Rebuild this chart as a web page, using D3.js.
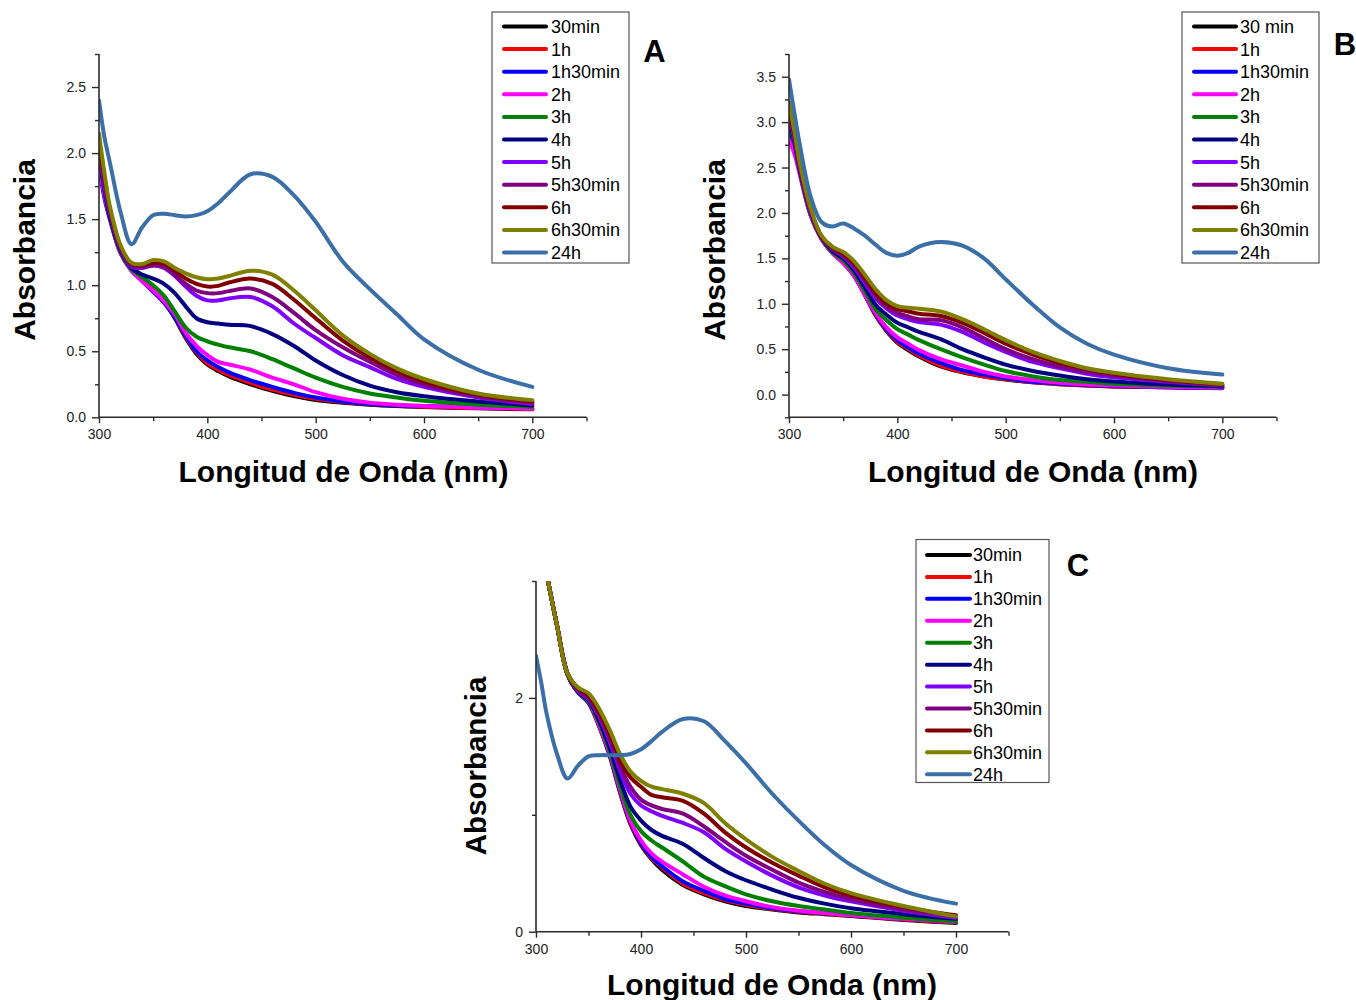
<!DOCTYPE html>
<html>
<head>
<meta charset="utf-8">
<script src="https://cdn.jsdelivr.net/npm/d3@7"></script>
<style>
  body { margin: 0; background: #fff; }
  text { font-family: "Liberation Sans", Arial, Helvetica, sans-serif; }
</style>
</head>
<body>
<svg id="fig" width="1356" height="1000"></svg>
<script>
// UV-Vis absorbance spectra recorded at increasing reaction times (three samples)

const wavelengths = [300, 305, 310, 320, 330, 340, 350, 360, 370, 380, 390, 400, 410, 420, 440, 460, 480, 500, 525, 550, 575, 600, 650, 700];

const seriesColors = ["#000000", "#ff0000", "#0000ff", "#ff00ff", "#008000", "#000080",
                      "#8000ff", "#800080", "#800000", "#808000", "#3b6fa8"];

const legendLabelsA = ["30min", "1h", "1h30min", "2h", "3h", "4h", "5h", "5h30min", "6h", "6h30min", "24h"];
const legendLabelsB = ["30 min", "1h", "1h30min", "2h", "3h", "4h", "5h", "5h30min", "6h", "6h30min", "24h"];
const legendLabelsC = ["30min", "1h", "1h30min", "2h", "3h", "4h", "5h", "5h30min", "6h", "6h30min", "24h"];

// Sample A — one row per time, in legend order
const absorbanceA = [
  [1.95,1.70,1.52,1.25,1.12,1.04,0.96,0.87,0.75,0.60,0.48,0.40,0.35,0.31,0.25,0.20,0.16,0.13,0.11,0.095,0.085,0.078,0.068,0.06],
  [1.97,1.71,1.53,1.25,1.12,1.04,0.96,0.87,0.76,0.61,0.49,0.41,0.36,0.32,0.26,0.21,0.17,0.14,0.115,0.10,0.09,0.08,0.07,0.065],
  [1.90,1.66,1.50,1.24,1.11,1.03,0.95,0.87,0.76,0.62,0.50,0.43,0.38,0.34,0.28,0.23,0.185,0.15,0.12,0.10,0.09,0.085,0.075,0.07],
  [1.93,1.68,1.51,1.24,1.11,1.03,0.96,0.88,0.78,0.64,0.54,0.47,0.42,0.40,0.36,0.30,0.25,0.19,0.14,0.11,0.095,0.085,0.075,0.065],
  [2.00,1.72,1.52,1.25,1.12,1.06,1.00,0.92,0.80,0.68,0.61,0.575,0.55,0.53,0.50,0.44,0.37,0.30,0.23,0.18,0.15,0.125,0.095,0.08],
  [2.00,1.72,1.52,1.26,1.13,1.08,1.05,1.01,0.94,0.84,0.75,0.72,0.71,0.70,0.69,0.63,0.54,0.43,0.32,0.24,0.19,0.16,0.12,0.09],
  [2.02,1.75,1.55,1.27,1.14,1.13,1.15,1.13,1.07,0.99,0.92,0.885,0.885,0.90,0.91,0.84,0.71,0.60,0.47,0.38,0.29,0.23,0.15,0.10],
  [2.05,1.78,1.56,1.28,1.15,1.14,1.15,1.14,1.08,1.01,0.96,0.94,0.94,0.955,0.975,0.91,0.79,0.66,0.53,0.42,0.32,0.25,0.16,0.11],
  [2.10,1.82,1.58,1.29,1.16,1.15,1.17,1.16,1.11,1.05,1.01,0.99,0.995,1.02,1.05,1.01,0.89,0.75,0.58,0.45,0.35,0.27,0.17,0.12],
  [2.15,1.85,1.60,1.30,1.17,1.16,1.19,1.18,1.13,1.09,1.06,1.045,1.05,1.07,1.11,1.08,0.96,0.81,0.62,0.48,0.37,0.29,0.18,0.13],
  [2.40,2.12,1.93,1.55,1.31,1.44,1.53,1.54,1.53,1.52,1.53,1.56,1.62,1.70,1.84,1.82,1.68,1.48,1.18,0.97,0.78,0.59,0.36,0.23]
];

// Sample B
const absorbanceB = [
  [2.93,2.72,2.45,1.98,1.72,1.56,1.45,1.31,1.10,0.87,0.70,0.57,0.49,0.42,0.31,0.245,0.20,0.165,0.135,0.115,0.10,0.09,0.08,0.075],
  [2.95,2.73,2.45,1.98,1.72,1.56,1.45,1.31,1.10,0.88,0.71,0.58,0.505,0.43,0.32,0.25,0.20,0.17,0.135,0.115,0.10,0.09,0.08,0.075],
  [2.95,2.73,2.45,1.98,1.72,1.56,1.46,1.31,1.10,0.89,0.72,0.60,0.52,0.45,0.35,0.27,0.22,0.18,0.14,0.12,0.105,0.095,0.08,0.07],
  [2.80,2.65,2.42,1.97,1.71,1.56,1.45,1.31,1.10,0.90,0.74,0.63,0.56,0.49,0.39,0.32,0.25,0.20,0.16,0.13,0.11,0.10,0.085,0.075],
  [3.00,2.76,2.46,1.99,1.72,1.57,1.48,1.34,1.14,0.94,0.82,0.72,0.66,0.60,0.50,0.41,0.33,0.26,0.20,0.16,0.14,0.12,0.10,0.085],
  [3.05,2.78,2.47,2.00,1.73,1.58,1.50,1.37,1.18,0.99,0.88,0.79,0.74,0.69,0.61,0.50,0.41,0.33,0.26,0.21,0.17,0.145,0.11,0.09],
  [3.10,2.81,2.49,2.01,1.73,1.60,1.52,1.40,1.23,1.06,0.95,0.87,0.83,0.80,0.77,0.69,0.575,0.47,0.36,0.29,0.23,0.19,0.14,0.10],
  [3.15,2.84,2.51,2.02,1.74,1.61,1.53,1.42,1.26,1.09,0.97,0.90,0.86,0.83,0.82,0.74,0.62,0.50,0.39,0.31,0.25,0.21,0.15,0.105],
  [3.18,2.87,2.53,2.04,1.74,1.62,1.55,1.45,1.29,1.12,1.00,0.94,0.915,0.89,0.865,0.79,0.68,0.56,0.44,0.35,0.28,0.23,0.16,0.11],
  [3.22,2.90,2.55,2.05,1.75,1.63,1.57,1.47,1.32,1.16,1.04,0.975,0.955,0.945,0.915,0.83,0.72,0.60,0.47,0.37,0.29,0.24,0.17,0.12],
  [3.47,3.10,2.75,2.18,1.90,1.85,1.885,1.83,1.75,1.65,1.56,1.53,1.56,1.63,1.68,1.64,1.50,1.27,0.99,0.74,0.56,0.44,0.29,0.22]
];

// Sample C
const absorbanceC = [
  [3.70,3.35,3.07,2.62,2.20,2.05,1.96,1.76,1.51,1.19,0.92,0.74,0.62,0.53,0.40,0.32,0.26,0.22,0.19,0.165,0.15,0.135,0.10,0.075],
  [3.70,3.35,3.07,2.62,2.20,2.05,1.96,1.76,1.52,1.20,0.93,0.75,0.63,0.55,0.41,0.33,0.27,0.23,0.195,0.17,0.155,0.14,0.105,0.08],
  [3.70,3.35,3.07,2.62,2.20,2.05,1.96,1.77,1.52,1.21,0.94,0.76,0.64,0.56,0.43,0.35,0.28,0.24,0.20,0.175,0.16,0.145,0.11,0.085],
  [3.70,3.35,3.07,2.62,2.20,2.05,1.97,1.77,1.53,1.22,0.95,0.78,0.67,0.60,0.49,0.385,0.31,0.26,0.21,0.18,0.16,0.14,0.11,0.085],
  [3.70,3.35,3.07,2.62,2.20,2.05,1.97,1.79,1.55,1.25,1.00,0.86,0.78,0.72,0.60,0.47,0.39,0.32,0.26,0.22,0.19,0.16,0.12,0.09],
  [3.70,3.35,3.07,2.62,2.21,2.05,1.98,1.81,1.58,1.30,1.07,0.95,0.87,0.82,0.75,0.63,0.52,0.44,0.36,0.29,0.24,0.20,0.15,0.11],
  [3.70,3.35,3.07,2.62,2.21,2.06,1.99,1.84,1.63,1.38,1.18,1.08,1.03,0.99,0.93,0.85,0.71,0.60,0.48,0.38,0.31,0.26,0.18,0.12],
  [3.70,3.35,3.07,2.62,2.21,2.07,2.00,1.86,1.66,1.42,1.24,1.13,1.08,1.05,1.01,0.90,0.77,0.65,0.53,0.42,0.34,0.28,0.19,0.13],
  [3.70,3.35,3.07,2.62,2.21,2.08,2.02,1.88,1.70,1.47,1.32,1.24,1.17,1.15,1.12,1.01,0.85,0.72,0.59,0.48,0.38,0.31,0.21,0.14],
  [3.70,3.35,3.07,2.62,2.21,2.09,2.04,1.91,1.73,1.52,1.37,1.29,1.24,1.22,1.18,1.10,0.93,0.79,0.64,0.52,0.41,0.33,0.22,0.13],
  [2.36,2.13,1.87,1.52,1.31,1.42,1.50,1.51,1.51,1.51,1.52,1.56,1.63,1.71,1.82,1.80,1.63,1.44,1.18,0.95,0.74,0.57,0.35,0.24]
];

// Axis tick values
const xMajorTicks = [300, 400, 500, 600, 700];
const xMinorTicks = [350, 450, 550, 650, 750];
const yMajorTicksA = [0, 0.5, 1.0, 1.5, 2.0, 2.5];
const yMinorTicksA = [0.25, 0.75, 1.25, 1.75, 2.25, 2.75];
const yMajorTicksB = [0, 0.5, 1.0, 1.5, 2.0, 2.5, 3.0, 3.5];
const yMinorTicksB = [-0.25, 0.25, 0.75, 1.25, 1.75, 2.25, 2.75, 3.25, 3.75];
const yMajorTicksC = [0, 2];
const yMinorTicksC = [1, 3];

const svg = d3.select("#fig");
const axisColor = "#2b2b2b";

function drawPanel(cfg) {
  const x = d3.scaleLinear().domain([300, 750]).range([cfg.left, cfg.right]);
  const y = d3.scaleLinear().domain(cfg.yDomain).range([cfg.bottom, cfg.top]);
  const g = svg.append("g");

  const clipId = "clip-" + cfg.id;
  svg.append("clipPath").attr("id", clipId)
    .append("rect")
    .attr("x", cfg.left).attr("y", cfg.top)
    .attr("width", cfg.right - cfg.left).attr("height", cfg.bottom - cfg.top);

  // spectra
  const line = d3.line()
    .x((d, i) => x(wavelengths[i]))
    .y(d => y(d))
    .curve(d3.curveCatmullRom.alpha(0.5));
  const curves = g.append("g").attr("clip-path", `url(#${clipId})`);
  cfg.data.forEach((row, k) => {
    curves.append("path")
      .attr("d", line(row))
      .attr("fill", "none")
      .attr("stroke", seriesColors[k])
      .attr("stroke-width", 4)
      .attr("stroke-linejoin", "round")
      .attr("stroke-linecap", "round");
  });

  // axes
  const tickFont = g => g.selectAll("text")
    .attr("font-size", 14)
    .attr("fill", "#222")
    .attr("font-family", "'Liberation Sans', Arial, sans-serif");

  const xAxis = g.append("g").attr("transform", `translate(0,${cfg.bottom})`)
    .call(d3.axisBottom(x).tickValues(xMajorTicks).tickSize(6).tickPadding(6).tickFormat(d3.format("d")));
  xAxis.call(tickFont);
  xAxis.select(".domain").attr("stroke", axisColor).attr("stroke-width", 1.6)
    .attr("d", `M${cfg.left},0H${cfg.right}`);
  xAxis.selectAll(".tick line").attr("stroke", axisColor).attr("stroke-width", 1.4);
  g.append("g").attr("transform", `translate(0,${cfg.bottom})`)
    .call(d3.axisBottom(x).tickValues(xMinorTicks).tickSize(4).tickFormat(""))
    .call(a => a.select(".domain").remove())
    .selectAll(".tick line").attr("stroke", axisColor).attr("stroke-width", 1.4);

  const yAxis = g.append("g").attr("transform", `translate(${cfg.left},0)`)
    .call(d3.axisLeft(y).tickValues(cfg.yMajor).tickSize(7).tickPadding(6).tickFormat(d3.format(cfg.yFormat)));
  yAxis.call(tickFont);
  yAxis.select(".domain").attr("stroke", axisColor).attr("stroke-width", 1.6)
    .attr("d", `M0,${cfg.bottom}V${cfg.top}`);
  yAxis.selectAll(".tick line").attr("stroke", axisColor).attr("stroke-width", 1.4);
  g.append("g").attr("transform", `translate(${cfg.left},0)`)
    .call(d3.axisLeft(y).tickValues(cfg.yMinor).tickSize(4).tickFormat(""))
    .call(a => a.select(".domain").remove())
    .selectAll(".tick line").attr("stroke", axisColor).attr("stroke-width", 1.4);

  // axis titles
  g.append("text")
    .attr("x", cfg.xTitle[0]).attr("y", cfg.xTitle[1])
    .attr("text-anchor", "middle")
    .attr("font-size", 30).attr("font-weight", "bold").attr("fill", "#000")
    .text("Longitud de Onda (nm)");
  g.append("text")
    .attr("transform", `translate(${cfg.yTitle[0]},${cfg.yTitle[1]}) rotate(-90)`)
    .attr("text-anchor", "middle")
    .attr("font-size", cfg.yTitleSize).attr("font-weight", "bold").attr("fill", "#000")
    .text("Absorbancia");

  // legend
  const lg = g.append("g");
  lg.append("rect")
    .attr("x", cfg.legend.x).attr("y", cfg.legend.y)
    .attr("width", cfg.legend.w).attr("height", cfg.legend.h)
    .attr("fill", "#fff").attr("stroke", "#555").attr("stroke-width", 1.2);
  cfg.labels.forEach((label, k) => {
    const yy = cfg.legend.row0 + k * cfg.legend.step;
    lg.append("line")
      .attr("x1", cfg.legend.lineX[0]).attr("x2", cfg.legend.lineX[1])
      .attr("y1", yy).attr("y2", yy)
      .attr("stroke", seriesColors[k]).attr("stroke-width", 4)
      .attr("stroke-linecap", "round");
    lg.append("text")
      .attr("x", cfg.legend.textX).attr("y", yy).attr("dy", "0.36em")
      .attr("font-size", 18).attr("fill", "#000")
      .text(label);
  });

  // panel letter
  g.append("text")
    .attr("x", cfg.letter[0]).attr("y", cfg.letter[1])
    .attr("text-anchor", "middle")
    .attr("font-size", 31).attr("font-weight", "bold").attr("fill", "#000")
    .text(cfg.id);
}

drawPanel({
  id: "A", data: absorbanceA, labels: legendLabelsA,
  left: 99, right: 586.5, top: 54, bottom: 417.3, yDomain: [0, 2.75],
  yMajor: yMajorTicksA, yMinor: yMinorTicksA, yFormat: ".1f",
  xTitle: [343.5, 482], yTitle: [35, 250], yTitleSize: 30,
  legend: { x: 492, y: 12, w: 137, h: 251, row0: 26.5, step: 22.6, lineX: [504, 546], textX: 551 },
  letter: [654.5, 62]
});

drawPanel({
  id: "B", data: absorbanceB, labels: legendLabelsB,
  left: 789, right: 1276.5, top: 54, bottom: 417.3, yDomain: [-0.25, 3.75],
  yMajor: yMajorTicksB, yMinor: yMinorTicksB, yFormat: ".1f",
  xTitle: [1033, 482], yTitle: [725, 250], yTitleSize: 30,
  legend: { x: 1182, y: 12, w: 137, h: 251, row0: 26.5, step: 22.6, lineX: [1194, 1236], textX: 1240 },
  letter: [1345, 55]
});

drawPanel({
  id: "C", data: absorbanceC, labels: legendLabelsC,
  left: 536, right: 1008.5, top: 581, bottom: 931.7, yDomain: [0, 3],
  yMajor: yMajorTicksC, yMinor: yMinorTicksC, yFormat: "d",
  xTitle: [772, 995], yTitle: [486, 766], yTitleSize: 29.5,
  legend: { x: 916, y: 539.5, w: 133, h: 243, row0: 555, step: 21.93, lineX: [927, 970], textX: 973 },
  letter: [1078, 576]
});
</script>
</body>
</html>
